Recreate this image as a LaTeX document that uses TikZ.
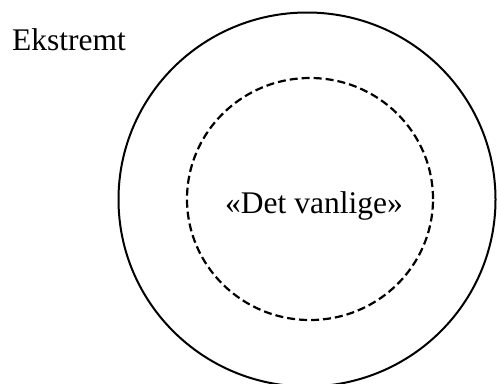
\documentclass[tikz,border=0pt]{standalone}
\usepackage{fontspec}
\setmainfont{Liberation Serif}
\usetikzlibrary{shapes.geometric}
\tikzset{
  ring/.style={draw=black, ellipse, inner sep=0pt, line width=2pt},
  dashring/.style={ring, line width=2.2pt, dash pattern=on 8pt off 4pt},
  lbl/.style={anchor=base west, inner sep=0pt, font=\fontsize{31.5}{36}\selectfont}
}
\begin{document}
\begin{tikzpicture}[x=1pt,y=1pt]
\useasboundingbox (0,0) rectangle (497,-383);
\clip (0,0) rectangle (497,-383);
\node[ring, minimum width=377pt, minimum height=374pt] (outer) at (307,-199.5) {};
\node[dashring, minimum width=246pt, minimum height=242pt] (inner) at (310,-199) {};
\node[lbl] (ekstremt) at (12,-50) {Ekstremt};
\node[lbl] (vanlige) at (225,-213) {«Det vanlige»};
\end{tikzpicture}
\end{document}
